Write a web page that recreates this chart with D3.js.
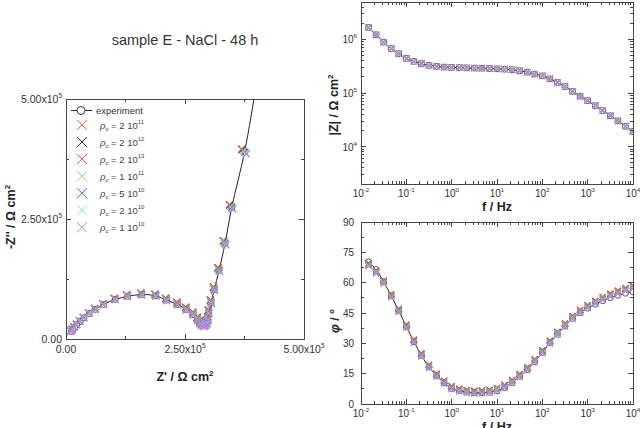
<!DOCTYPE html>
<html>
<head>
<meta charset="utf-8">
<script src="https://cdn.jsdelivr.net/npm/d3@7"></script>
<style>
  body { margin: 0; background: #fff; }
  svg { font-family: "Liberation Sans", Arial, sans-serif; }
</style>
</head>
<body>
<svg id="chart" width="640" height="428"></svg>
<script>
// measurement frequencies (Hz), 6 points per decade
const freq = [0.0147, 0.0215, 0.0316, 0.0464, 0.0681, 0.1, 0.147, 0.215, 0.316, 0.464, 0.681, 1,
  1.47, 2.15, 3.16, 4.64, 6.81, 10, 14.7, 21.5, 31.6, 46.4, 68.1, 100,
  147, 215, 316, 464, 681, 1000, 1470, 2150, 3160, 4640, 6810, 10000];

// experiment |Z| (Ohm cm2) and phase (deg)
const expModulus = [1.675e6, 1.222e6, 8.91e5, 6.76e5, 5.41e5, 4.43e5, 3.89e5, 3.52e5, 3.28e5, 3.14e5, 3.05e5, 3.01e5,
  2.98e5, 2.95e5, 2.92e5, 2.90e5, 2.86e5, 2.83e5, 2.79e5, 2.72e5, 2.60e5, 2.45e5, 2.26e5, 2.09e5,
  1.84e5, 1.57e5, 1.32e5, 1.07e5, 8.7e4, 7.2e4, 5.8e4, 4.7e4, 3.76e4, 3.02e4, 2.40e4, 1.91e4];
const expPhase = [70.3, 66.5, 60.4, 53.5, 46.1, 38.2, 30.8, 24.0, 18.3, 14.0, 10.5, 7.7,
  6.7, 5.9, 5.6, 5.6, 5.8, 6.6, 8.1, 10.7, 13.7, 17.0, 21.0, 25.5,
  30.2, 34.5, 38.6, 42.4, 45.2, 47.4, 49.4, 51.1, 52.6, 53.8, 54.8, 55.5];

// fitted phase (deg), the fits share the modulus of the experiment
const fitPhase = [68.6, 65.0, 60.0, 53.3, 46.0, 38.2, 30.8, 24.0, 18.3, 14.0, 10.5, 7.8,
  6.6, 5.9, 5.6, 5.7, 6.0, 6.9, 8.4, 10.9, 13.8, 17.2, 21.1, 25.6,
  30.3, 34.7, 38.8, 42.5, 45.5, 47.9, 50.0, 51.9, 53.6, 55.0, 56.3, 57.5];

// fit series: rho_c mantissa / exponent, colour, phase shift (deg)
const fitMantissa = ['2', '2', '2', '1', '5', '2', '1'];
const fitExponent = ['11', '12', '13', '11', '10', '10', '10'];
const fitColors = ['#f2683a', '#333333', '#ee4f3a', '#8fd07a', '#4a62c4', '#7fe0ee', '#c383d4'];
const fitShift = [0.8, 0.9, 1.0, 0.4, 0.0, -0.3, -0.5];

const nyTicks = [0, 2.5e5, 5e5];
const nyTickLabels = [['0.00', ''], ['2.50x10', '5'], ['5.00x10', '5']];
const phaseTicks = [0, 15, 30, 45, 60, 75, 90];
const decadesF = [-2, -1, 0, 1, 2, 3, 4];
const decadesZ = [4, 5, 6];

const svg = d3.select('#chart');
const frameColor = '#444';
const rad = Math.PI / 180;

// build point lists
const expPts = freq.map((f, i) => ({ f: f, mod: expModulus[i], ph: expPhase[i],
  re: expModulus[i] * Math.cos(expPhase[i] * rad), im: expModulus[i] * Math.sin(expPhase[i] * rad) }));
const fitSeries = fitColors.map((c, s) => freq.map((f, i) => {
  const ph = fitPhase[i] + fitShift[s];
  return { f: f, mod: expModulus[i], ph: ph,
    re: expModulus[i] * Math.cos(ph * rad), im: expModulus[i] * Math.sin(ph * rad) };
}));

// panels
const xN = d3.scaleLinear().domain([0, 5e5]).range([66, 304]);
const yN = d3.scaleLinear().domain([0, 5e5]).range([339, 99]);
const xF = d3.scaleLog().domain([1e-2, 1e4]).range([361, 633]);
const yZ = d3.scaleLog().domain([2e3, 5e6]).range([184, 2]);
const xF2 = d3.scaleLog().domain([1e-2, 1e4]).range([361, 633]);
const yP = d3.scaleLinear().domain([0, 90]).range([404, 222]);

function frame(g, x, y, xMaj, xMin, yMaj, yMin) {
  const [x0, x1] = x.range(), [y0, y1] = y.range();
  const t = g.append('g').attr('stroke', frameColor).attr('stroke-width', 1).attr('shape-rendering', 'crispEdges');
  t.append('rect').attr('x', x0).attr('y', y1).attr('width', x1 - x0).attr('height', y0 - y1).attr('fill', 'none');
  const tick = (v, len, axis) => {
    if (axis === 'x') {
      const px = x(v);
      t.append('line').attr('x1', px).attr('x2', px).attr('y1', y0).attr('y2', y0 - len);
      t.append('line').attr('x1', px).attr('x2', px).attr('y1', y1).attr('y2', y1 + len);
    } else {
      const py = y(v);
      t.append('line').attr('y1', py).attr('y2', py).attr('x1', x0).attr('x2', x0 + len);
      t.append('line').attr('y1', py).attr('y2', py).attr('x1', x1).attr('x2', x1 - len);
    }
  };
  xMaj.forEach(v => tick(v, 5, 'x'));
  xMin.forEach(v => tick(v, 3, 'x'));
  yMaj.forEach(v => tick(v, 5, 'y'));
  yMin.forEach(v => tick(v, 3, 'y'));
}

function powLabel(g, x, y, base, sup, anchor, size) {
  const t = g.append('text').attr('x', x).attr('y', y).attr('text-anchor', anchor)
    .attr('font-size', size).attr('fill', '#333');
  t.append('tspan').text(base);
  if (sup) t.append('tspan').attr('dy', -5).attr('font-size', size * 0.62).text(sup);
  return t;
}

function crossPath(s) { return `M${-s},${-s}L${s},${s}M${-s},${s}L${s},${-s}`; }

function logMinor(decades) {
  const out = [];
  decades.slice(0, -1).forEach(d => { for (let k = 2; k <= 9; k++) out.push(k * Math.pow(10, d)); });
  return out;
}

function clip(id, x, y) {
  const [x0, x1] = x.range(), [y0, y1] = y.range();
  svg.append('clipPath').attr('id', id).append('rect')
    .attr('x', x0).attr('y', y1).attr('width', x1 - x0).attr('height', y0 - y1);
}

function drawPoints(g, pts, x, y, fx, fy, cs) {
  const line = d3.line().x(d => x(fx(d))).y(d => y(fy(d))).curve(d3.curveCatmullRom);
  g.append('path').datum(pts).attr('d', line).attr('fill', 'none').attr('stroke', '#222').attr('stroke-width', 1);
  g.selectAll('circle.exp').data(pts).join('circle').attr('class', 'exp')
    .attr('cx', d => x(fx(d))).attr('cy', d => y(fy(d))).attr('r', 3)
    .attr('fill', '#fff').attr('stroke', '#555').attr('stroke-width', 1);
  fitSeries.forEach((series, s) => {
    g.append('g').selectAll('path').data(series).join('path')
      .attr('transform', d => `translate(${x(fx(d))},${y(fy(d))})`)
      .attr('d', crossPath(cs)).attr('stroke', fitColors[s]).attr('stroke-width', 1.15).attr('fill', 'none');
  });
}

// ---------- Nyquist ----------
clip('clipN', xN, yN);
const gN = svg.append('g');
drawPoints(gN.append('g').attr('clip-path', 'url(#clipN)'), expPts, xN, yN, d => d.re, d => d.im, 3.5);
frame(gN, xN, yN, nyTicks, [1.25e5, 3.75e5], nyTicks, [1.25e5, 3.75e5]);
nyTicks.forEach((v, i) => {
  powLabel(gN, xN(v), 353, nyTickLabels[i][0], nyTickLabels[i][1], 'middle', 10.5);
  powLabel(gN, 62, yN(v) + 4, nyTickLabels[i][0], nyTickLabels[i][1], 'end', 10.5);
});

svg.append('text').attr('x', 185).attr('y', 45).attr('text-anchor', 'middle')
  .attr('font-size', 14.5).attr('fill', '#333').text('sample E - NaCl - 48 h');

const xt = svg.append('text').attr('x', 185).attr('y', 381).attr('text-anchor', 'middle')
  .attr('font-size', 12.5).attr('font-weight', 'bold').attr('fill', '#222');
xt.append('tspan').text("Z' / \u03A9 cm");
xt.append('tspan').attr('dy', -5).attr('font-size', 8).text('2');

const yt = svg.append('text').attr('transform', 'translate(15,217) rotate(-90)').attr('text-anchor', 'middle')
  .attr('font-size', 12.5).attr('font-weight', 'bold').attr('fill', '#222');
yt.append('tspan').text("-Z'' / \u03A9 cm");
yt.append('tspan').attr('dy', -5).attr('font-size', 8).text('2');

// legend
const lg = svg.append('g');
lg.append('line').attr('x1', 71).attr('x2', 92).attr('y1', 110.5).attr('y2', 110.5).attr('stroke', '#222');
lg.append('circle').attr('cx', 81).attr('cy', 110.5).attr('r', 4).attr('fill', '#fff').attr('stroke', '#333');
lg.append('text').attr('x', 96).attr('y', 114).attr('font-size', 9.5).attr('fill', '#333').text('experiment');
fitColors.forEach((c, s) => {
  const yy = 125 + s * 17.05;
  lg.append('path').attr('transform', `translate(82,${yy})`).attr('d', crossPath(5))
    .attr('stroke', c).attr('stroke-width', 1).attr('fill', 'none');
  const t = lg.append('text').attr('x', 100).attr('y', yy + 3.5).attr('font-size', 9.5).attr('fill', '#444');
  t.append('tspan').attr('font-style', 'italic').text('\u03C1');
  t.append('tspan').attr('dy', 2.5).attr('font-size', 6).text('c');
  t.append('tspan').attr('dy', -2.5).text(' = ' + fitMantissa[s] + ' 10');
  t.append('tspan').attr('dy', -4.5).attr('font-size', 6).text(fitExponent[s]);
});

// ---------- |Z| vs f ----------
clip('clipZ', xF, yZ);
const gZ = svg.append('g');
drawPoints(gZ.append('g').attr('clip-path', 'url(#clipZ)'), expPts, xF, yZ, d => d.f, d => d.mod, 3);
frame(gZ, xF, yZ, decadesF.map(d => Math.pow(10, d)), logMinor(decadesF),
  decadesZ.map(d => Math.pow(10, d)), logMinor([3, 4, 5, 6, 7]).filter(v => v >= 2e3 && v <= 5e6));
decadesF.forEach(d => powLabel(gZ, xF(Math.pow(10, d)), 197, '10', String(d), 'middle', 10));
decadesZ.forEach(d => powLabel(gZ, 357, yZ(Math.pow(10, d)) + 4, '10', String(d), 'end', 10));
svg.append('text').attr('x', 497).attr('y', 211).attr('text-anchor', 'middle')
  .attr('font-size', 12.5).attr('font-weight', 'bold').attr('fill', '#222').text('f / Hz');
const zt = svg.append('text').attr('transform', 'translate(338,105) rotate(-90)').attr('text-anchor', 'middle')
  .attr('font-size', 12.5).attr('font-weight', 'bold').attr('fill', '#222');
zt.append('tspan').text('|Z| / \u03A9 cm');
zt.append('tspan').attr('dy', -5).attr('font-size', 8).text('2');

// ---------- phase vs f ----------
clip('clipP', xF2, yP);
const gP = svg.append('g');
drawPoints(gP.append('g').attr('clip-path', 'url(#clipP)'), expPts, xF2, yP, d => d.f, d => d.ph, 3);
frame(gP, xF2, yP, decadesF.map(d => Math.pow(10, d)), logMinor(decadesF),
  phaseTicks, phaseTicks.slice(0, -1).map(v => v + 7.5));
decadesF.forEach(d => powLabel(gP, xF2(Math.pow(10, d)), 417, '10', String(d), 'middle', 10));
phaseTicks.forEach(v => powLabel(gP, 354, yP(v) + 3.5, String(v), '', 'end', 10));
svg.append('text').attr('x', 497).attr('y', 431).attr('text-anchor', 'middle')
  .attr('font-size', 12.5).attr('font-weight', 'bold').attr('fill', '#222').text('f / Hz');
const pt = svg.append('text').attr('transform', 'translate(339,321) rotate(-90)').attr('text-anchor', 'middle')
  .attr('font-size', 12.5).attr('font-weight', 'bold').attr('fill', '#222');
pt.append('tspan').attr('font-style', 'italic').text('\u03C6');
pt.append('tspan').text(' / \u00B0');
</script>
</body>
</html>
